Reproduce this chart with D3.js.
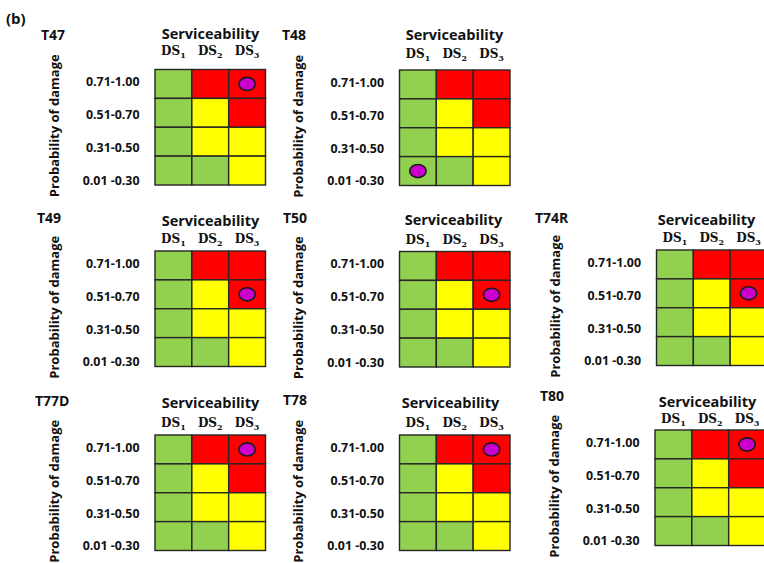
<!DOCTYPE html>
<html>
<head>
<meta charset="utf-8">
<script src="https://cdn.jsdelivr.net/npm/d3@7"></script>
<style>
  html, body { margin: 0; padding: 0; background: #fff; }
  svg { display: block; }
</style>
</head>
<body>
<svg id="chart" width="764" height="563"></svg>
<script>
// ---------------- data ----------------
const panelNames = ["T47", "T48", "T49", "T50", "T74R", "T77D", "T78", "T80"];
const dsCategories = ["1", "2", "3"];                 // DS subscripts (serviceability)
const probCategories = ["0.71-1.00", "0.51-0.70", "0.31-0.50", "0.01 -0.30"];
// risk level per row (probability) and column (DS): 1 = low, 2 = medium, 3 = high
const riskRow1 = [1, 3, 3];
const riskRow2 = [1, 2, 3];
const riskRow3 = [1, 2, 2];
const riskRow4 = [1, 1, 2];
const riskRows = [riskRow1, riskRow2, riskRow3, riskRow4];
// marker (assessed state) of each panel
const markerDS   = ["3", "1", "3", "3", "3", "3", "3", "3"];
const markerProb = ["0.71-1.00", "0.01 -0.30", "0.51-0.70", "0.51-0.70", "0.51-0.70", "0.71-1.00", "0.71-1.00", "0.71-1.00"];
const titleText = "Serviceability";
const yTitleText = "Probability of damage";
const figLabel = "(b)";

// ---------------- layout (positions only) ----------------
const layout = [
  { gx: 155,   gy: 69.5, tx: 41,  ty: 39.5,  titleX: 210.5, titleY: 38.5,  dsY: 55   },
  { gx: 399.5, gy: 70,   tx: 282, ty: 40,    titleX: 454.5, titleY: 39.5,  dsY: 58   },
  { gx: 155,   gy: 251,  tx: 37,  ty: 222.7, titleX: 210.5, titleY: 225.5, dsY: 243.3 },
  { gx: 399.5, gy: 251.5,tx: 283, ty: 223,   titleX: 453.5, titleY: 225,   dsY: 243.5 },
  { gx: 656.5, gy: 250,  tx: 535, ty: 222.7, titleX: 706.5, titleY: 225,   dsY: 241.7 },
  { gx: 155,   gy: 435,  tx: 35,  ty: 406,   titleX: 210.5, titleY: 408.3, dsY: 426.7 },
  { gx: 399.5, gy: 435,  tx: 283, ty: 405,   titleX: 450.5, titleY: 408,   dsY: 426.7 },
  { gx: 655,   gy: 430,  tx: 540, ty: 400.7, titleX: 707.5, titleY: 407,   dsY: 423.3 }
];
const gridW = 110.5, gridH = 115.5;

const color = d3.scaleOrdinal().domain([1, 2, 3]).range(["#92d050", "#ffff00", "#ff0000"]);

const svg = d3.select("#chart");
svg.append("rect").attr("width", 764).attr("height", 563).attr("fill", "#fff");

svg.append("text")
  .attr("x", 6).attr("y", 24)
  .attr("font-family", "'Open Sans', sans-serif")
  .attr("font-weight", "bold").attr("font-size", 15)
  .attr("fill", "#111")
  .text(figLabel);

panelNames.forEach((name, pi) => {
  const L = layout[pi];
  const x = d3.scaleBand().domain(dsCategories).range([L.gx, L.gx + gridW]).padding(0);
  const y = d3.scaleBand().domain(probCategories).range([L.gy, L.gy + gridH]).padding(0);
  const g = svg.append("g").attr("class", "panel");

  // panel name
  g.append("text")
    .attr("x", L.tx).attr("y", L.ty)
    .attr("font-family", "'Open Sans', sans-serif")
    .attr("font-weight", "bold").attr("font-size", 14)
    .attr("fill", "#111")
    .text(name);

  // title
  g.append("text")
    .attr("x", L.titleX).attr("y", L.titleY)
    .attr("text-anchor", "middle")
    .attr("font-family", "'Open Sans', sans-serif")
    .attr("font-weight", "bold").attr("font-size", 14.5)
    .attr("fill", "#111")
    .text(titleText);

  // DS column labels
  dsCategories.forEach(d => {
    const t = g.append("text")
      .attr("x", x(d) + x.bandwidth() / 2).attr("y", L.dsY)
      .attr("text-anchor", "middle")
      .attr("font-family", "'DejaVu Serif', serif")
      .attr("font-weight", "bold").attr("font-size", 12)
      .attr("fill", "#111");
    t.append("tspan").text("DS");
    t.append("tspan").attr("font-size", 8).attr("dy", 3).text(d);
  });

  // y title
  g.append("text")
    .attr("transform", `translate(${L.gx - 96.5},${L.gy + gridH / 2 - 1.5}) rotate(-90)`)
    .attr("text-anchor", "middle")
    .attr("font-family", "'Open Sans', sans-serif")
    .attr("font-weight", "bold").attr("font-size", 13)
    .attr("fill", "#111")
    .text(yTitleText);

  // row labels
  probCategories.forEach((p, i) => {
    g.append("text")
      .attr("x", L.gx - 15.5)
      .attr("y", L.gy + 12.4 + i * 32.9)
      .attr("dy", "0.35em")
      .attr("text-anchor", "end")
      .attr("font-family", "'Open Sans', sans-serif")
      .attr("font-weight", "bold").attr("font-size", 12.4)
      .attr("fill", "#111")
      .text(p);
  });

  // cells
  const cells = [];
  probCategories.forEach((p, r) => dsCategories.forEach((d, c) => cells.push({ p, d, v: riskRows[r][c] })));
  g.selectAll("rect.cell").data(cells).enter().append("rect")
    .attr("class", "cell")
    .attr("x", c => x(c.d)).attr("y", c => y(c.p))
    .attr("width", x.bandwidth()).attr("height", y.bandwidth())
    .attr("fill", c => color(c.v))
    .attr("stroke", "#262626").attr("stroke-width", 1.4);

  // marker
  g.append("ellipse")
    .attr("cx", x(markerDS[pi]) + x.bandwidth() / 2)
    .attr("cy", y(markerProb[pi]) + y.bandwidth() / 2)
    .attr("rx", 8.2).attr("ry", 6.6)
    .attr("fill", "#cc00cc")
    .attr("stroke", "#1a1a1a").attr("stroke-width", 1.6);
});
</script>
</body>
</html>
